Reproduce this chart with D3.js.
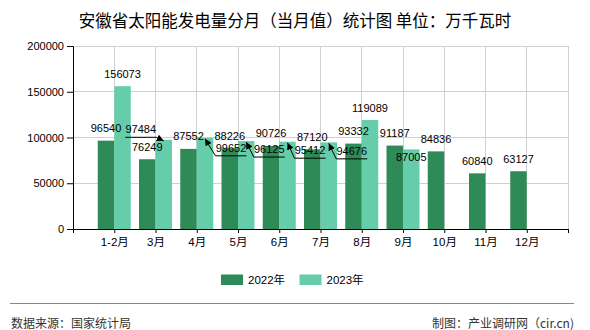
<!DOCTYPE html>
<html><head><meta charset="utf-8">
<script src="https://cdn.jsdelivr.net/npm/d3@7"></script>
<style>body{margin:0;background:#fff}svg{display:block}</style>
</head><body>
<svg id="chart" width="590" height="330"></svg>
<script>
const categories = ["1-2月","3月","4月","5月","6月","7月","8月","9月","10月","11月","12月"];
const series2022 = [96540,76249,87552,88226,90726,87120,93332,91187,84836,60840,63127];
const series2023 = [156073,97484,99652,96125,95412,94676,119089,87005,null,null,null];
const seriesNames = ["2022年","2023年"];
const yTicks = [0,50000,100000,150000,200000];

// label layout tweaks (pixel offsets of the label centre from the bar top), kept apart from the data
const labelLayout = {
  "1-1": {dx:-23, dy:-10.5, leader:true},
  "1-2": {dx:26, dy:10, leader:true},
  "1-3": {dx:23, dy:8, leader:true},
  "1-4": {dx:22.5, dy:8.5, leader:true},
  "1-5": {dx:23, dy:8.5, leader:true},
  "1-7": {dx:0, dy:8, leader:false}
};

const colors = ["#2e8b57","#66cdaa"];
const svg = d3.select("#chart");
const FONT = "'Liberation Sans', Arial, 'Noto Sans CJK SC', sans-serif";
const L = 73, R = 568, T = 46, B = 229;

const x = d3.scaleLinear().domain([0, categories.length + 1]).range([L, R]);
const y = d3.scaleLinear().domain([0, 200000]).range([B, T]);
const bw = x(0.4) - x(0);

svg.append("defs").append("marker")
  .attr("id","arr").attr("viewBox","0 0 10 10").attr("refX",10).attr("refY",5)
  .attr("markerWidth",7).attr("markerHeight",7).attr("orient","auto")
  .attr("markerUnits","userSpaceOnUse")
  .append("path").attr("d","M0,0 L10,5 L0,10 z").attr("fill","#000");

// title
svg.append("text").attr("x",295).attr("y",27).attr("text-anchor","middle")
  .style("font-family","'Noto Sans CJK SC', sans-serif").style("font-size","16.5px").attr("fill","#000")
  .text("安徽省太阳能发电量分月（当月值）统计图 单位：万千瓦时");

// grid
const xt = d3.range(0, categories.length + 2);
svg.append("g").selectAll("line").data(yTicks).join("line")
  .attr("x1",L).attr("x2",R).attr("y1",d=>y(d)).attr("y2",d=>y(d))
  .attr("stroke","#d0d0d0").attr("stroke-width",1).attr("shape-rendering","crispEdges");
svg.append("g").selectAll("line").data(xt).join("line")
  .attr("x1",d=>x(d)).attr("x2",d=>x(d)).attr("y1",T).attr("y2",B)
  .attr("stroke","#d0d0d0").attr("stroke-width",1).attr("shape-rendering","crispEdges");

// bars
const allSeries = [series2022, series2023];
allSeries.forEach((s, si) => {
  svg.append("g").selectAll("rect").data(s.map((v,i)=>({v,i})).filter(d=>d.v!=null)).join("rect")
    .attr("x", d => si === 0 ? x(d.i+1) - bw : x(d.i+1))
    .attr("width", bw)
    .attr("y", d => y(d.v))
    .attr("height", d => y(0) - y(d.v))
    .attr("fill", colors[si]);
});

// axes
const yAxis = d3.axisLeft(y).tickValues(yTicks).tickSize(6).tickPadding(3).tickFormat(d3.format("d"));
const gy = svg.append("g").attr("transform",`translate(${L},0)`).call(yAxis);
gy.select(".domain").attr("stroke","#000");
gy.selectAll(".tick line").attr("stroke","#000");
gy.selectAll("text").style("font-family",FONT).style("font-size","11px").attr("fill","#000");

const xAxis = d3.axisBottom(x).tickValues(xt).tickSize(4).tickPadding(5)
  .tickFormat(d => (d >= 1 && d <= categories.length) ? categories[d-1] : "");
const gx = svg.append("g").attr("transform",`translate(0,${B})`).call(xAxis);
gx.select(".domain").attr("stroke","#000");
gx.selectAll(".tick line").attr("stroke","#000");
gx.selectAll("text").style("font-family",FONT).style("font-size","11.5px").attr("fill","#000");

// value labels
const lg = svg.append("g");
allSeries.forEach((s, si) => {
  s.forEach((v, i) => {
    if (v == null) return;
    const ax = si === 0 ? x(i+1) - bw/2 : x(i+1) + bw/2;
    const ay = y(v);
    const lay = labelLayout[si + "-" + i];
    let cx = ax, cy = ay - 12.5;
    if (lay) { cx = ax + lay.dx; cy = ay + lay.dy; }
    lg.append("text").attr("x",cx).attr("y",cy+4).attr("text-anchor","middle")
      .style("font-family",FONT).style("font-size","11px").attr("fill","#000").text(v);
    if (lay && lay.leader) {
      const hw = 15.5, uy = cy + 8;
      const far = lay.dx < 0 ? cx - hw : cx + hw;
      const near = lay.dx < 0 ? cx + hw : cx - hw;
      lg.append("path").attr("d",`M${far},${uy} L${near},${uy} L${ax},${ay+1}`)
        .attr("fill","none").attr("stroke","#000").attr("stroke-width",1)
        .attr("marker-end","url(#arr)");
    }
  });
});

// legend
const legX = [221, 299.5];
seriesNames.forEach((n, i) => {
  svg.append("rect").attr("x",legX[i]).attr("y",274.5).attr("width",22).attr("height",10.5).attr("fill",colors[i]);
  svg.append("text").attr("x",legX[i]+27).attr("y",283.5)
    .style("font-family",FONT).style("font-size","11.5px").attr("fill","#000").text(n);
});

// footer
svg.append("line").attr("x1",10).attr("x2",574).attr("y1",303.5).attr("y2",303.5)
  .attr("stroke","#888").attr("stroke-width",1);
svg.append("text").attr("x",11).attr("y",328)
  .style("font-family","'Noto Sans CJK SC', sans-serif").style("font-size","12px").attr("fill","#333")
  .text("数据来源：国家统计局");
svg.append("text").attr("x",574).attr("y",328).attr("text-anchor","end")
  .style("font-family","'Noto Sans CJK SC', sans-serif").style("font-size","12px").attr("fill","#333")
  .text("制图：产业调研网（cir.cn)");
</script>
</body></html>
